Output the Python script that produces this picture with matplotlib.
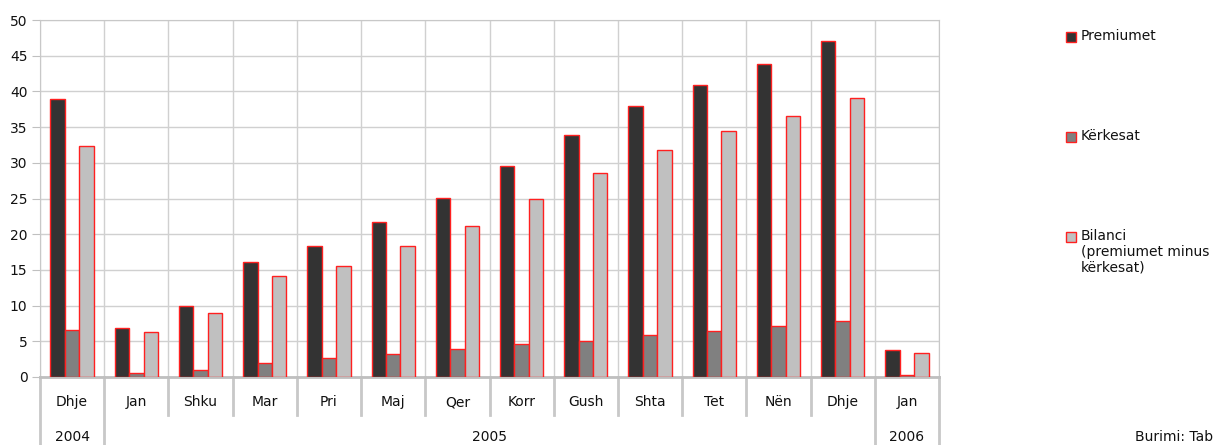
import matplotlib.pyplot as plt
from matplotlib.patches import Rectangle
import numpy as np

# të dhënat (lexuar nga grafiku)
muajt = ['Dhje', 'Jan', 'Shku', 'Mar', 'Pri', 'Maj', 'Qer', 'Korr',
         'Gush', 'Shta', 'Tet', 'Nën', 'Dhje', 'Jan']
vitet = ['2004', '2005', '2006']
vitet_grupet = [(0, 0), (1, 12), (13, 13)]

premiumet = [39.0, 6.9, 10.0, 16.1, 18.3, 21.7, 25.1, 29.6, 33.9, 37.9, 40.9, 43.9, 47.1, 3.8]
kerkesat = [6.6, 0.5, 1.0, 1.9, 2.6, 3.2, 3.9, 4.6, 5.1, 5.9, 6.4, 7.1, 7.9, 0.35]
bilanci = [32.3, 6.3, 8.9, 14.1, 15.5, 18.3, 21.2, 24.9, 28.6, 31.8, 34.4, 36.6, 39.1, 3.3]

seri = ['Premiumet', 'Kërkesat', 'Bilanci\n(premiumet minus\nkërkesat)']
ngjyrat = ['#333333', '#808080', '#c0c0c0']

W, H = 1221, 445
fig = plt.figure(figsize=(W / 100, H / 100), dpi=100)
ax = fig.add_axes([40 / W, (H - 377) / H, 899 / W, 357 / H])

x = np.arange(len(muajt))
w = 0.225
for i, vlerat in enumerate([premiumet, kerkesat, bilanci]):
    ax.bar(x + (i - 1) * w, vlerat, width=w, color=ngjyrat[i],
           edgecolor='#ff2020', linewidth=1, zorder=3)

ax.set_xlim(-0.5, len(muajt) - 0.5)
ax.set_ylim(0, 50)
ax.set_yticks(range(0, 51, 5))
ax.set_xticks(x)
ax.set_xticklabels(muajt, fontsize=10, color='#111111')
ax.set_xticks(np.arange(-0.5, len(muajt)), minor=True)
ax.tick_params(axis='x', which='major', length=0, pad=13)
ax.tick_params(axis='x', which='minor', length=0)
ax.tick_params(axis='y', length=6, color='#c0c0c0', labelsize=10, labelcolor='#111111', pad=3)

ax.grid(True, axis='y', color='#d0d0d0', linewidth=1, zorder=0)
ax.grid(True, axis='x', which='minor', color='#d0d0d0', linewidth=1, zorder=0)
for s in ['left', 'top', 'right']:
    ax.spines[s].set_color('#c8c8c8')
ax.spines['bottom'].set_color('#bfbfbf')
ax.spines['bottom'].set_linewidth(2)

# vijat ndarëse poshtë boshtit
tr = ax.get_xaxis_transform()
ndarjet_vitesh = [-0.5, 0.5, 12.5, 13.5]
for b in np.arange(-0.5, len(muajt)):
    fund = -68 / 357 if b in ndarjet_vitesh else -38 / 357
    ax.plot([b, b], [0, fund], transform=tr, color='#c8c8c8', linewidth=2, clip_on=False)

for v, (a, b) in zip(vitet, vitet_grupet):
    ax.text((a + b) / 2, -60 / 357, v, transform=tr, ha='center', va='center',
            fontsize=10, color='#111111')

# legjenda
for i, emri in enumerate(seri):
    yc = 37 + i * 100
    fig.patches.append(Rectangle((1066 / W, (H - yc - 5) / H), 10 / W, 10 / H,
                                 transform=fig.transFigure, facecolor=ngjyrat[i],
                                 edgecolor='#ff2020', linewidth=1))
    fig.text(1081 / W, (H - yc + 8) / H, emri, ha='left', va='top',
             fontsize=10, color='#111111', linespacing=1.15)

fig.text(1135 / W, (H - 437) / H, 'Burimi: Tab', ha='left', va='center',
         fontsize=10, color='#111111')

fig.savefig('out.png', dpi=100)
